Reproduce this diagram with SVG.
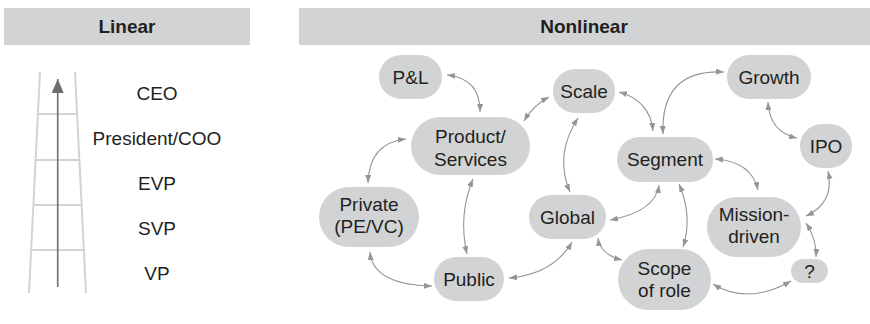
<svg xmlns="http://www.w3.org/2000/svg" width="870" height="324" viewBox="0 0 870 324">
  <defs>
    <marker id="tip" viewBox="0 0 8 6" refX="8" refY="3" markerWidth="8" markerHeight="6" markerUnits="userSpaceOnUse" orient="auto-start-reverse">
      <path d="M0,0 L8,3 L0,6 z" fill="#939598"/>
    </marker>
    <marker id="ladderTip" viewBox="0 0 14 12" refX="14" refY="6" markerWidth="14" markerHeight="12" markerUnits="userSpaceOnUse" orient="auto">
      <path d="M0,0 L14,6 L0,12 z" fill="#6d6e71"/>
    </marker>
  </defs>
  <style>
    .band { fill: #d1d3d4; }
    .head { font-family: "Liberation Sans", Arial, sans-serif; font-size: 19px; font-weight: bold; fill: #231f20; text-anchor: middle; }
    .lbl { font-family: "Liberation Sans", Arial, sans-serif; font-size: 19px; fill: #231f20; text-anchor: middle; }
    .node rect { fill: #d1d3d4; }
    .rail { stroke: #d1d3d4; stroke-width: 2; fill: none; }
    .link path { fill: none; stroke: #939598; stroke-width: 1.1; marker-start: url(#tip); marker-end: url(#tip); }
  </style>

  <rect width="870" height="324" fill="#ffffff"/>

  <!-- column headers -->
  <rect class="band" x="4" y="8" width="246" height="37"/>
  <text class="head" x="127" y="32.5">Linear</text>
  <rect class="band" x="299" y="8" width="571" height="37"/>
  <text class="head" x="584" y="32.5">Nonlinear</text>

  <!-- ladder -->
  <g id="ladder">
    <line class="rail" x1="40" y1="72" x2="29" y2="293"/>
    <line class="rail" x1="75" y1="72" x2="86" y2="293"/>
    <line class="rail" x1="37.9" y1="114" x2="77.1" y2="114"/>
    <line class="rail" x1="35.6" y1="160" x2="79.4" y2="160"/>
    <line class="rail" x1="33.4" y1="205" x2="81.6" y2="205"/>
    <line class="rail" x1="31.1" y1="250" x2="83.9" y2="250"/>
    <line x1="57.7" y1="287" x2="57.7" y2="79" stroke="#6d6e71" stroke-width="1.6" marker-end="url(#ladderTip)"/>
  </g>
  <g id="ranks">
    <text class="lbl" x="157" y="99.5">CEO</text>
    <text class="lbl" x="157" y="144.5">President/COO</text>
    <text class="lbl" x="157" y="189.5">EVP</text>
    <text class="lbl" x="157" y="234.5">SVP</text>
    <text class="lbl" x="157" y="279.5">VP</text>
  </g>

  <!-- connectors -->
  <g id="connectors" class="link">
    <path d="M447,75 Q480.5,78.5 480,112"/>
    <path d="M524,121 Q533.5,105 549,97"/>
    <path d="M406,139 Q369,143 368,183"/>
    <path d="M473,179 Q458,215.5 467,254"/>
    <path d="M578,118 Q554,155 570,192"/>
    <path d="M619,92 Q650,100.5 653,131"/>
    <path d="M663,134 Q660.5,69 724,72"/>
    <path d="M768,102 Q769.5,132 797,138"/>
    <path d="M715,159 Q751.5,161.5 758,190"/>
    <path d="M828,171 Q835,202.5 806,216"/>
    <path d="M806,223 Q817,240 816,257"/>
    <path d="M713,284 Q748,305.5 791,281"/>
    <path d="M659,185 Q655.5,211.5 610,220"/>
    <path d="M679,184 Q693,216.5 683,247"/>
    <path d="M598,238 Q600,254.5 622,260"/>
    <path d="M572,242 Q553.5,274 509,278"/>
    <path d="M370,252 Q373,285 432,286"/>
  </g>

  <!-- nodes -->
  <g id="pnl" class="node">
    <rect x="379" y="55" width="63" height="44" rx="22"/>
    <text class="lbl" x="410.5" y="83.5">P&amp;L</text>
  </g>
  <g id="product" class="node">
    <rect x="411" y="117" width="119" height="58" rx="29"/>
    <text class="lbl" x="470.5" y="143">Product/</text>
    <text class="lbl" x="470.5" y="165.5">Services</text>
  </g>
  <g id="scale" class="node">
    <rect x="553" y="69" width="62" height="44" rx="22"/>
    <text class="lbl" x="584" y="97.5">Scale</text>
  </g>
  <g id="growth" class="node">
    <rect x="727" y="55" width="84" height="44" rx="22"/>
    <text class="lbl" x="769" y="83.5">Growth</text>
  </g>
  <g id="segment" class="node">
    <rect x="617" y="137" width="96" height="45" rx="22.5"/>
    <text class="lbl" x="665" y="165.5">Segment</text>
  </g>
  <g id="ipo" class="node">
    <rect x="800" y="124" width="52" height="44" rx="22"/>
    <text class="lbl" x="826" y="152.5">IPO</text>
  </g>
  <g id="private" class="node">
    <rect x="319" y="187" width="100" height="60" rx="30"/>
    <text class="lbl" x="369" y="210.5">Private</text>
    <text class="lbl" x="369" y="233">(PE/VC)</text>
  </g>
  <g id="public" class="node">
    <rect x="434" y="257" width="70" height="44" rx="22"/>
    <text class="lbl" x="469" y="285.5">Public</text>
  </g>
  <g id="global" class="node">
    <rect x="529" y="195" width="77" height="44" rx="22"/>
    <text class="lbl" x="567.5" y="223.5">Global</text>
  </g>
  <g id="scope" class="node">
    <rect x="618" y="249" width="93" height="61" rx="30.5"/>
    <text class="lbl" x="664.5" y="275">Scope</text>
    <text class="lbl" x="664.5" y="297">of role</text>
  </g>
  <g id="mission" class="node">
    <rect x="707" y="197" width="94" height="60" rx="30"/>
    <text class="lbl" x="754" y="221">Mission-</text>
    <text class="lbl" x="754" y="243">driven</text>
  </g>
  <g id="unknown" class="node">
    <rect x="791" y="259" width="37" height="24" rx="12"/>
    <text class="lbl" x="809.5" y="277.5">?</text>
  </g>
</svg>
